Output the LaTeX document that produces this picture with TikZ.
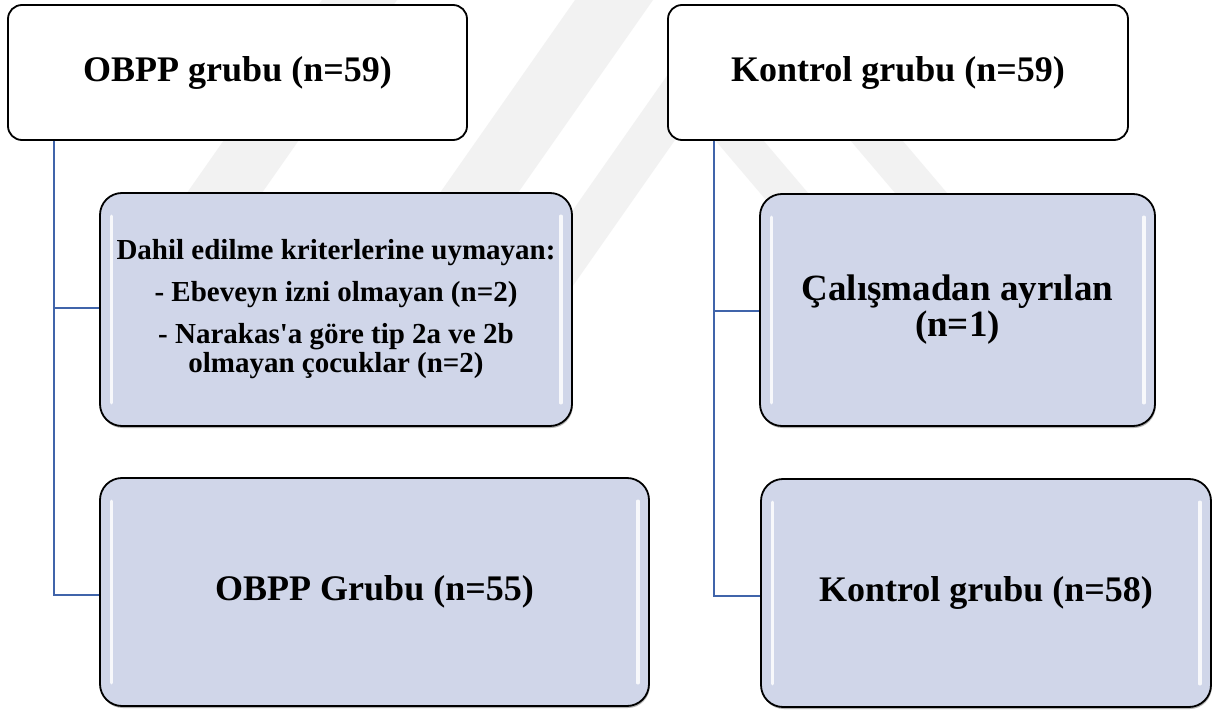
\documentclass[tikz,border=0pt]{standalone}
\usepackage{fontspec}
\newfontfamily\tnr{Liberation Serif}
\usetikzlibrary{shadows}
\definecolor{connblue}{RGB}{64,100,170}
\definecolor{boxfill}{RGB}{208,214,233}
\definecolor{wmgray}{RGB}{242,242,242}
\begin{document}
\begin{tikzpicture}[x=1pt,y=-1pt,
  bigtxt/.style={font=\tnr\bfseries\fontsize{36}{36}\selectfont},
  midtxt/.style={font=\tnr\bfseries\fontsize{29}{29}\selectfont},
  toptxt/.style={font=\tnr\bfseries\fontsize{37}{36}\selectfont},
  topbox/.style={draw=black, line width=1.8pt, fill=white, rounded corners=14pt,
    inner sep=0pt, align=center, bigtxt},
  lowbox/.style={draw=black, line width=1.8pt, fill=boxfill, rounded corners=22pt,
    inner sep=0pt, align=center, bigtxt,
    drop shadow={shadow xshift=0.8pt, shadow yshift=-2pt, fill=black!55, opacity=.55}},
  conn/.style={draw=connblue, line width=2.2pt},
  hl/.style={draw=white, line width=3.2pt, line cap=round, opacity=.85},
  wmark/.style={fill=wmgray}]
\useasboundingbox (0,0) rectangle (1219,714);
\fill[white] (0,0) rectangle (1219,714);
% watermark bands
\fill[wmark] (140,260) -- (215,260) -- (397,0) -- (322,0) -- cycle;
\fill[wmark] (400,250) -- (478,250) -- (653,0) -- (575,0) -- cycle;
\fill[wmark] (517,290) -- (570,290) -- (766,10) -- (713,10) -- cycle;
\fill[wmark] (681,100) -- (729,100) -- (882,280) -- (834,280) -- cycle;
\fill[wmark] (816,100) -- (868,100) -- (1021,280) -- (969,280) -- cycle;
% nodes
\node[topbox, minimum width=459pt, minimum height=135pt] (tl) at (237.5,72.5) {OBPP grubu (n=59)};
\node[topbox, minimum width=460pt, minimum height=135pt] (tr) at (898,72.5) {Kontrol grubu (n=59)};
\node[lowbox, midtxt, minimum width=472pt, minimum height=233pt] (ml) at (336,309.5) {Dahil edilme kriterlerine uymayan:\\[13pt] - Ebeveyn izni olmayan (n=2)\\[13pt] - Narakas'a göre tip 2a ve 2b\\ olmayan çocuklar (n=2)};
\node[lowbox, minimum width=549pt, minimum height=228pt] (bl) at (374.5,592) {OBPP Grubu (n=55)};
\node[lowbox, toptxt, minimum width=395pt, minimum height=232pt] (mr) at (957.5,310) {Çalışmadan ayrılan\\(n=1)};
\node[lowbox, minimum width=450pt, minimum height=228pt] (br) at (986,593) {Kontrol grubu (n=58)};
% highlights
\foreach \n in {ml,bl,mr,br}{
  \draw[hl] ([xshift=12pt,yshift=-24pt]\n.north west) -- ([xshift=12pt,yshift=24pt]\n.south west);
  \draw[hl] ([xshift=-12pt,yshift=-24pt]\n.north east) -- ([xshift=-12pt,yshift=24pt]\n.south east);
}
% connectors
\coordinate (lv) at ([xshift=47pt]tl.south west);
\coordinate (rv) at ([xshift=47pt]tr.south west);
\draw[conn] (lv) |- ([yshift=1.5pt]ml.west);
\draw[conn] (lv) |- ([yshift=-3pt]bl.west);
\draw[conn] (rv) |- ([yshift=-1pt]mr.west);
\draw[conn] (rv) |- ([yshift=-3pt]br.west);
\end{tikzpicture}
\end{document}
